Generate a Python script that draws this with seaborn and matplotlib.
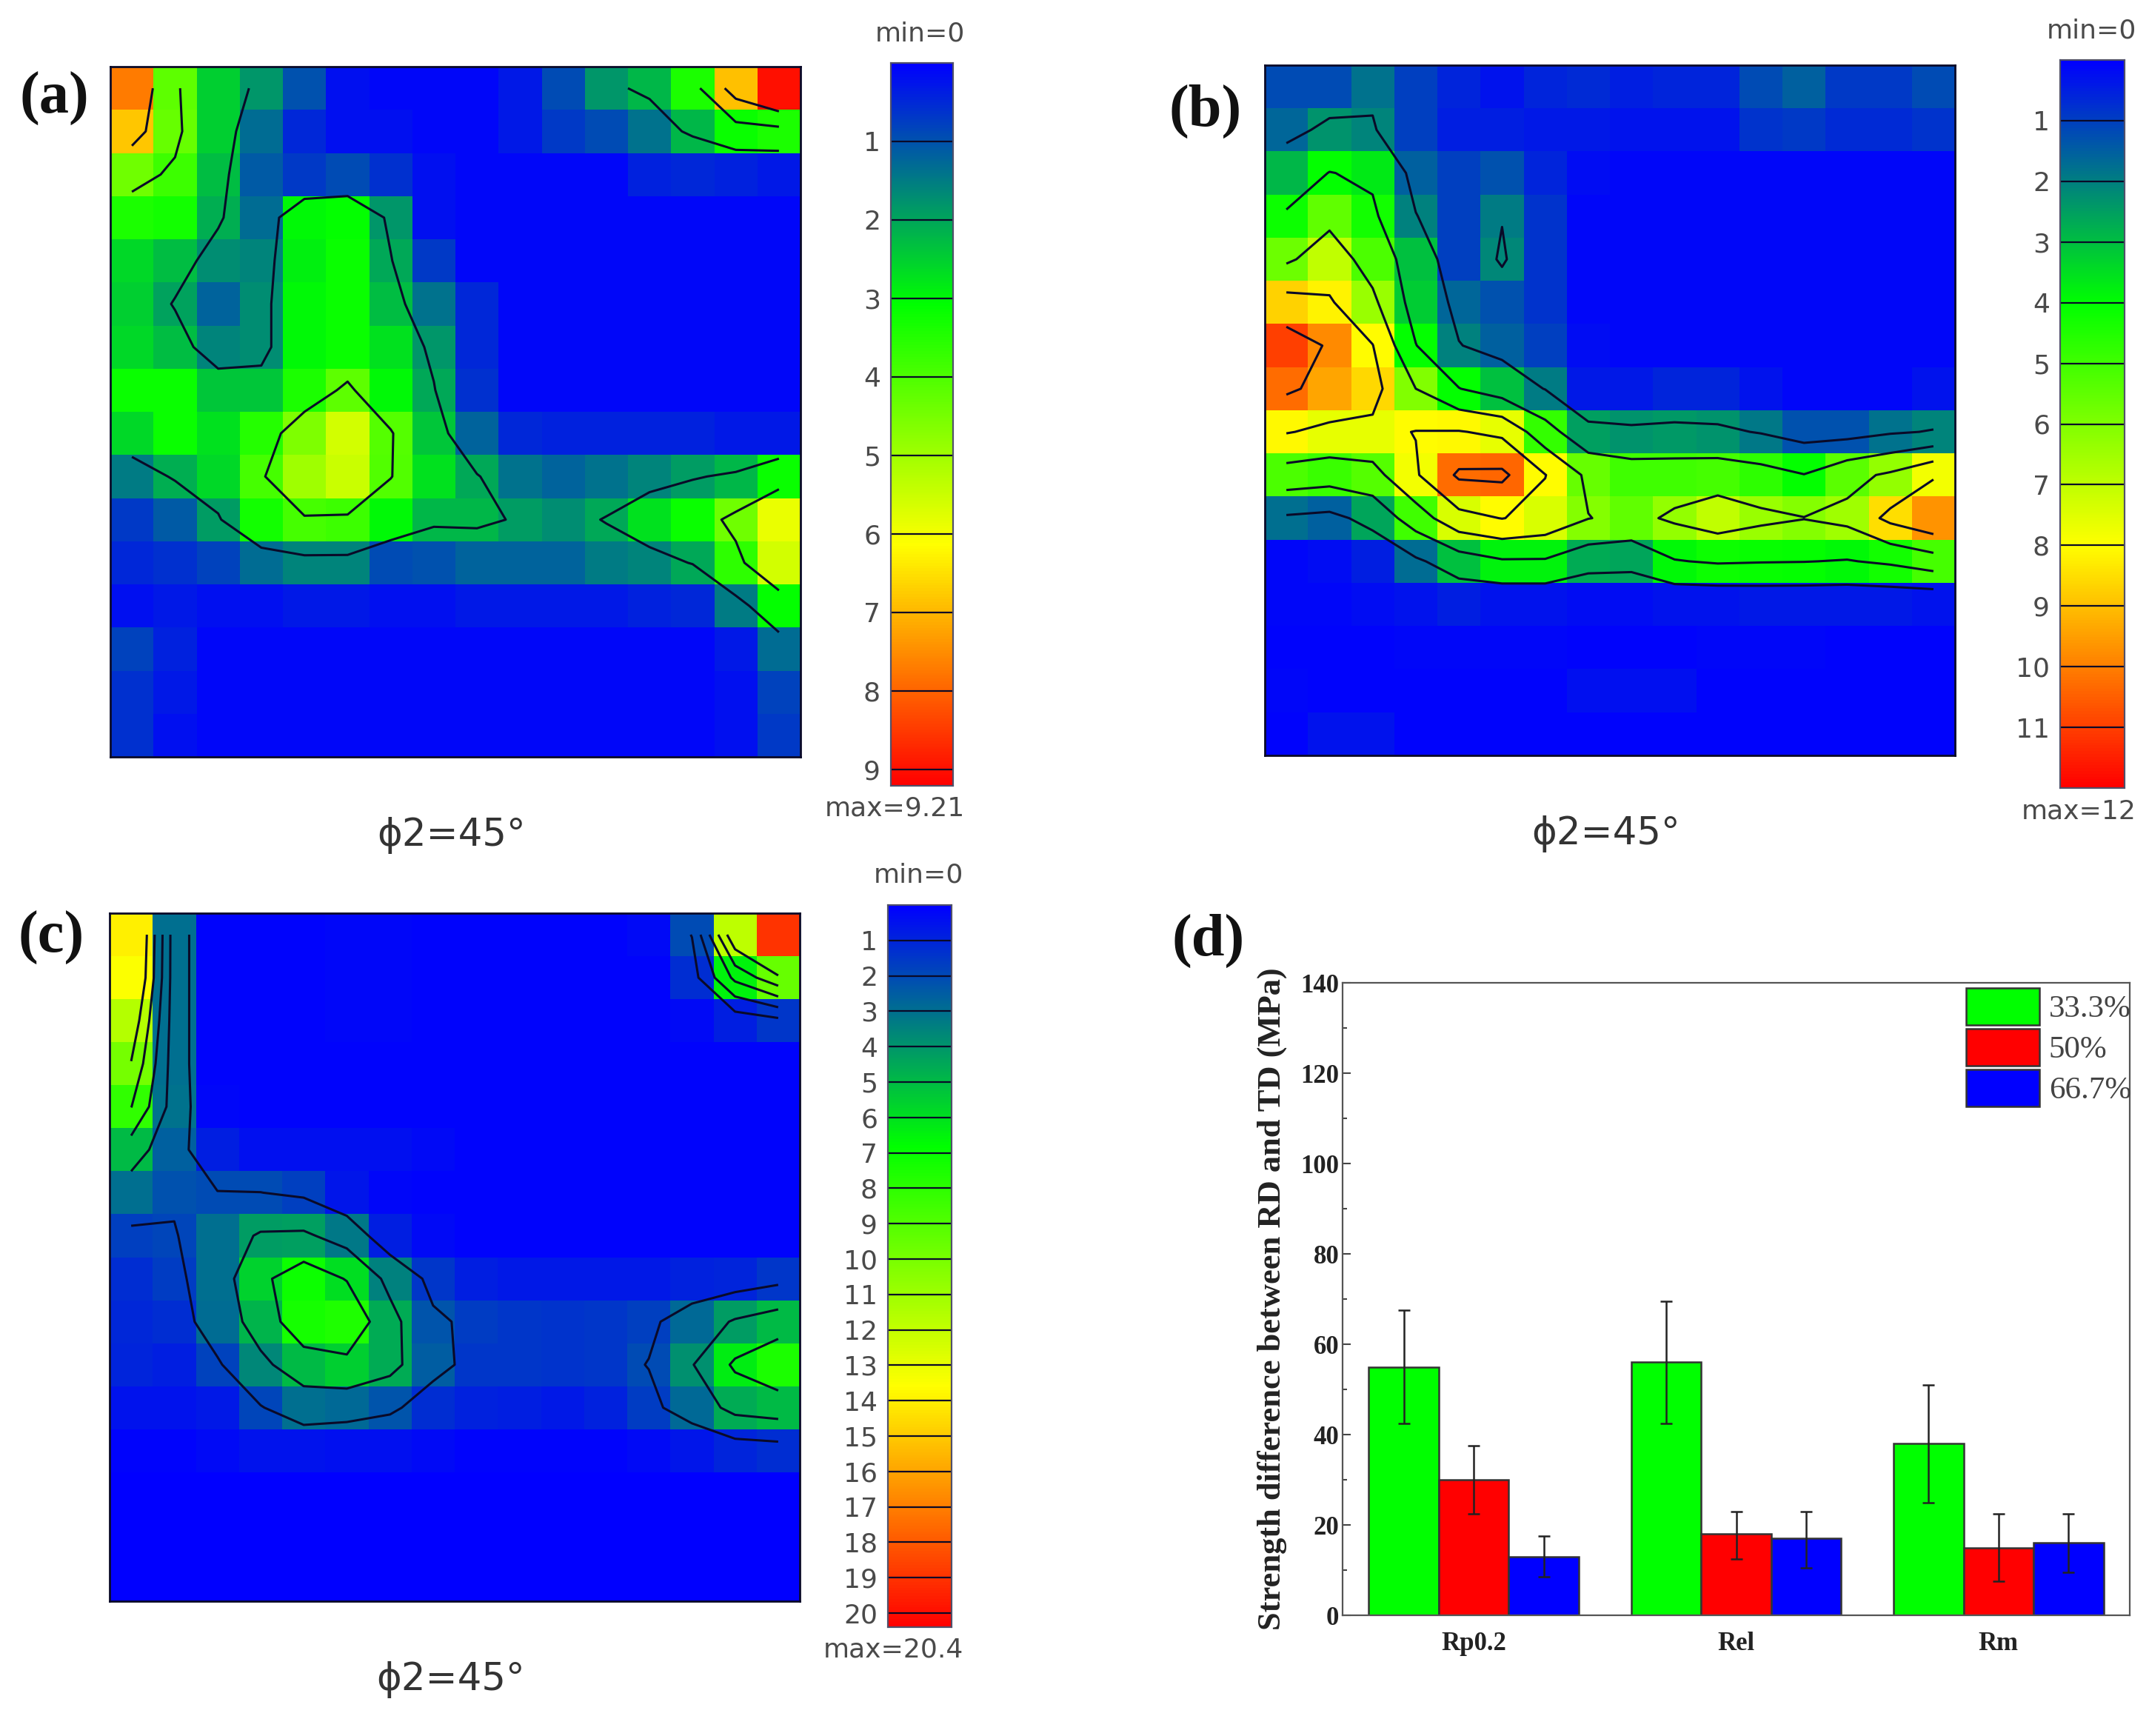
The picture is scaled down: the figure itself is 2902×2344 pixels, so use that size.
import numpy as np
import pandas as pd
import matplotlib
matplotlib.use("Agg")
import matplotlib.pyplot as plt
from matplotlib.colors import LinearSegmentedColormap
from matplotlib.ticker import MultipleLocator
import seaborn as sns

W, H = 2902, 2344

# ODF section (a), max 9.21
odf_a = [
    [7.7, 4.2, 2.5, 1.8, 1.0, .2, .1, .1, .1, .3, .9, 1.8, 2.2, 3.4, 6.9, 9.0],
    [6.8, 4.3, 2.5, 1.3, .5, .2, .2, .1, .1, .3, .7, .9, 1.4, 2.2, 3.2, 3.4],
    [4.4, 3.8, 2.3, 1.1, .7, .9, .6, .2, .1, .1, .1, .1, .4, .5, .4, .3],
    [3.4, 3.3, 2.1, 1.3, 3.0, 3.1, 1.8, .2, .1, .1, .1, .1, .1, .1, .1, .1],
    [2.6, 2.3, 1.7, 1.6, 2.9, 3.2, 2.05, .7, .1, .1, .1, .1, .1, .1, .1, .1],
    [2.5, 1.95, 1.2, 1.7, 3.0, 3.2, 2.3, 1.4, .5, .1, .1, .1, .1, .1, .1, .1],
    [2.6, 2.3, 1.6, 1.7, 3.0, 3.2, 2.7, 1.8, .5, .1, .1, .1, .1, .1, .1, .1],
    [3.2, 3.2, 2.4, 2.4, 3.4, 4.2, 3.0, 2.05, .6, .1, .1, .1, .1, .1, .1, .1],
    [2.6, 3.2, 2.7, 3.5, 4.6, 5.6, 4.1, 2.4, 1.2, .5, .4, .4, .4, .4, .3, .3],
    [1.5, 2.1, 2.6, 3.9, 5.0, 5.5, 4.05, 2.7, 2.05, 1.4, 1.2, 1.4, 1.6, 1.9, 2.2, 3.2],
    [.7, 1.1, 1.9, 3.3, 3.9, 3.8, 3.0, 2.2, 2.2, 1.9, 1.7, 2.05, 2.7, 3.2, 4.4, 5.9],
    [.5, .6, .8, 1.3, 1.6, 1.6, .9, 1.0, 1.2, 1.2, 1.2, 1.5, 1.6, 2.05, 3.6, 5.6],
    [.2, .3, .2, .2, .3, .3, .2, .2, .3, .3, .3, .3, .4, .5, 1.5, 3.1],
    [.8, .4, .1, .1, .1, .1, .1, .1, .1, .1, .1, .1, .1, .1, .3, 1.3],
    [.6, .3, .1, .1, .1, .1, .1, .1, .1, .1, .1, .1, .1, .1, .2, .8],
    [.6, .2, .1, .1, .1, .1, .1, .1, .1, .1, .1, .1, .1, .1, .2, .7],
]

# ODF section (b), max 12
odf_b = [
    [1.2, 1.2, 1.8, 1.0, .6, .3, .6, .7, .5, .6, .6, 1.2, 1.5, .9, .9, 1.2],
    [1.6, 2.3, 2.1, 1.0, .5, .5, .4, .4, .3, .3, .3, .8, .9, .7, .7, .8],
    [2.9, 4.05, 3.7, 1.5, 1.0, 1.3, .6, .2, .1, .1, .1, .1, .1, .1, .1, .1],
    [4.2, 5.5, 4.3, 2.05, 1.0, 1.95, .8, .1, .1, .1, .1, .1, .1, .1, .1, .1],
    [5.7, 7.0, 5.2, 3.0, 1.0, 2.15, .8, .1, .1, .1, .1, .1, .1, .1, .1, .1],
    [8.7, 8.2, 6.4, 3.2, 1.6, 1.3, .8, .1, .1, .1, .1, .1, .1, .1, .1, .1],
    [11.0, 9.8, 8.05, 4.05, 2.05, 1.5, 1.0, .2, .1, .1, .1, .1, .1, .1, .1, .1],
    [10.3, 9.4, 8.6, 6.0, 4.05, 3.0, 1.95, .4, .4, .6, .6, .3, .1, .1, .1, .3],
    [8.1, 7.6, 7.6, 8.05, 8.1, 7.6, 4.8, 2.5, 2.3, 2.4, 2.3, 1.9, 1.3, 1.3, 1.8, 2.1],
    [5.2, 4.9, 5.3, 7.8, 10.3, 10.4, 8.05, 5.6, 5.0, 5.0, 5.1, 4.7, 4.05, 5.4, 6.3, 7.8],
    [1.75, 1.5, 2.6, 5.0, 7.4, 8.05, 7.4, 6.05, 5.5, 6.3, 7.0, 6.4, 6.05, 6.5, 8.5, 9.7],
    [.1, .2, .5, 1.7, 3.0, 3.8, 3.8, 2.7, 2.6, 3.9, 4.2, 4.1, 4.05, 3.9, 4.3, 5.1],
    [.1, .1, .2, .3, .5, .3, .3, .2, .2, .3, .3, .4, .4, .4, .4, .3],
    [.05, .05, .05, .1, .1, .1, .1, .05, .05, .05, .1, .1, .1, .05, .05, .05],
    [.1, .05, .05, .05, .05, .05, .05, .25, .25, .25, .05, .05, .05, .05, .05, .05],
    [.05, .3, .3, .05, .05, .05, .05, .05, .05, .05, .05, .05, .05, .05, .05, .05],
]

# ODF section (c), max 20.4
odf_c = [
    [14.0, 3.0, .1, .1, .1, .2, .2, .1, .1, .1, .1, .1, .3, 2.05, 11.8, 19.0],
    [13.5, 3.0, .1, .1, .1, .2, .2, .1, .1, .1, .1, .1, .1, 1.2, 6.5, 9.5],
    [11.6, 3.0, .1, .1, .1, .2, .2, .1, .1, .1, .1, .1, .1, .3, .8, 1.5],
    [9.9, 3.0, .1, .1, .1, .1, .1, .1, .1, .1, .1, .1, .1, .1, .1, .1],
    [8.05, 3.1, .2, .1, .1, .1, .1, .1, .1, .1, .1, .1, .1, .1, .1, .1],
    [5.0, 2.6, .8, .4, .4, .4, .4, .3, .1, .1, .1, .1, .1, .1, .1, .1],
    [3.0, 2.2, 2.05, 2.02, 1.7, .6, .2, .1, .1, .1, .1, .1, .1, .1, .1, .1],
    [1.7, 1.9, 3.0, 4.2, 4.3, 3.2, .8, .3, .1, .1, .1, .1, .1, .1, .1, .1],
    [1.2, 1.6, 3.0, 5.6, 7.1, 5.9, 3.5, 1.5, .8, .7, .7, .7, .7, .9, 1.0, 1.5],
    [1.1, 1.2, 2.9, 4.8, 7.4, 7.6, 4.6, 2.3, 1.6, 1.5, 1.4, 1.5, 1.7, 2.8, 4.2, 5.0],
    [1.0, .8, 1.8, 3.6, 5.0, 5.5, 4.6, 2.5, 1.5, 1.5, 1.4, 1.5, 2.05, 3.9, 6.3, 7.5],
    [.5, .5, .7, 1.9, 3.0, 2.8, 2.3, 1.2, .9, .8, .7, .9, 1.6, 2.8, 4.6, 5.0],
    [.1, .1, .3, .5, .5, .4, .4, .3, .1, .1, .1, .1, .3, .6, 1.0, 1.2],
    [.05, .05, .05, .05, .05, .05, .05, .05, .05, .05, .05, .05, .05, .05, .05, .05],
    [.05, .05, .05, .05, .05, .05, .05, .05, .05, .05, .05, .05, .05, .05, .05, .05],
    [.05, .05, .05, .05, .05, .05, .05, .05, .05, .05, .05, .05, .05, .05, .05, .05],
]

contours_a = [2, 4, 6]
contours_b = [2, 4, 6, 8, 10]
contours_c = [2, 4, 6, 8, 10]

scale_a = list(range(1, 10))
scale_b = list(range(1, 12))
scale_c = list(range(1, 21))

# bar chart (d)
properties = ["Rp0.2", "Rel", "Rm"]
reductions = ["33.3%", "50%", "66.7%"]
strength_33 = [55, 56, 38]
strength_50 = [30, 18, 15]
strength_67 = [13, 17, 16]
err_low_33 = [42.5, 42.5, 25]
err_low_50 = [22.5, 12.5, 7.5]
err_low_67 = [8.5, 10.5, 9.5]
err_high_33 = [67.5, 69.5, 51]
err_high_50 = [37.5, 23, 22.5]
err_high_67 = [17.5, 23, 22.5]

BAR_COLORS = ["#00ff00", "#ff0000", "#0000ff"]
LINE_COLOR = "#0a0a28"
GREY_TEXT = "#4a4a4a"

odf_cmap = LinearSegmentedColormap.from_list(
    "odf", ["#0000ff", "#00ff00", "#ffff00", "#ff0000"])


def px_axes(fig, x0, y0, x1, y1):
    """Axes from pixel box, y counted from the top"""
    return fig.add_axes([x0 / W, 1 - y1 / H, (x1 - x0) / W, (y1 - y0) / H])


def px_text(fig, x, y, s, **kw):
    fig.text(x / W, 1 - y / H, s, **kw)


def plot_odf(fig, values, vmax, levels, scale, box, cbox, letter, letter_xy, max_label):
    """One ODF section with its contour lines and colour scale"""
    ax = px_axes(fig, *box)
    cax = px_axes(fig, *cbox)
    data = np.array(values)

    sns.heatmap(data, ax=ax, cmap=odf_cmap, vmin=0, vmax=vmax, cbar_ax=cax,
                xticklabels=False, yticklabels=False, square=False)
    centers = np.arange(data.shape[0]) + 0.5
    ax.contour(centers, centers, data, levels=levels, colors=LINE_COLOR,
               linewidths=2.2)
    for spine in ax.spines.values():
        spine.set_visible(True)
        spine.set_color(LINE_COLOR)
        spine.set_linewidth(2)
    ax.tick_params(length=0)

    cax.invert_yaxis()
    cax.yaxis.set_ticks_position("left")
    cax.set_yticks(scale)
    cax.set_yticklabels(scale, fontsize=26, color=GREY_TEXT)
    cax.tick_params(axis="y", length=0, pad=10)
    cax.hlines(scale, 0, 1, colors=LINE_COLOR, linewidth=1.6)
    for spine in cax.spines.values():
        spine.set_visible(True)
        spine.set_color("#50506a")
        spine.set_linewidth(1.5)

    right = cbox[2] + 16
    px_text(fig, right, cbox[1] - 40, "min=0", fontsize=26, color=GREY_TEXT,
            ha="right", va="center")
    px_text(fig, right, cbox[3] + 31, max_label, fontsize=26, color=GREY_TEXT,
            ha="right", va="center")
    px_text(fig, (box[0] + box[2]) / 2 - 5, box[3] + 106, "ϕ2=45°", fontsize=37,
            color="#333333", ha="center", va="center")
    px_text(fig, letter_xy[0], letter_xy[1], letter, fontsize=58, fontweight="bold",
            family="Liberation Serif", color="#111111", ha="left", va="center")


def plot_bars(fig):
    """Strength differences with error bars"""
    ax = px_axes(fig, 1813, 1327, 2876, 2181)
    df = pd.DataFrame({
        "property": properties * 3,
        "reduction": np.repeat(reductions, 3),
        "strength": strength_33 + strength_50 + strength_67,
    })
    sns.barplot(data=df, x="property", y="strength", hue="reduction",
                palette=BAR_COLORS, saturation=1, width=0.8, edgecolor="#333333",
                linewidth=1.8, errorbar=None, ax=ax)

    lows = [err_low_33, err_low_50, err_low_67]
    highs = [err_high_33, err_high_50, err_high_67]
    for container, low, high in zip(ax.containers, lows, highs):
        xs = [bar.get_x() + bar.get_width() / 2 for bar in container]
        ys = [bar.get_height() for bar in container]
        ax.errorbar(xs, ys,
                    yerr=[np.array(ys) - np.array(low), np.array(high) - np.array(ys)],
                    fmt="none", ecolor="#222222", elinewidth=1.8, capsize=6, capthick=1.8)

    ax.set_xlim(-0.5, 2.5)
    ax.set_ylim(0, 140)
    ax.yaxis.set_major_locator(MultipleLocator(20))
    ax.yaxis.set_minor_locator(MultipleLocator(10))
    ax.tick_params(axis="y", which="major", direction="in", length=8, width=1.5,
                   color="#444444", left=True)
    ax.tick_params(axis="y", which="minor", direction="in", length=4, width=1.5,
                   color="#444444", left=True)
    ax.tick_params(axis="x", length=0, pad=16)
    for label in ax.get_xticklabels() + ax.get_yticklabels():
        label.set_family("Liberation Serif")
        label.set_fontweight("bold")
        label.set_fontsize(25)
        label.set_color("#222222")
    ax.set_xlabel("")
    ax.set_ylabel("Strength difference between RD and TD (MPa)", family="Liberation Serif",
                  fontweight="bold", fontsize=32, color="#222222", labelpad=13)
    for spine in ax.spines.values():
        spine.set_visible(True)
        spine.set_color("#555555")
        spine.set_linewidth(1.6)

    handles, labels = ax.get_legend_handles_labels()
    ax.legend(handles, labels, loc="upper right", bbox_to_anchor=(1.002, 0.992),
              frameon=False, borderpad=0, borderaxespad=0, handlelength=2.3,
              handleheight=1.41, labelspacing=0.12, handletextpad=0.3,
              prop={"family": "Liberation Serif", "size": 31}, labelcolor="#444444")
    px_text(fig, 1583, 1270, "(d)", fontsize=58, fontweight="bold",
            family="Liberation Serif", color="#111111", ha="left", va="center")


def main():
    sns.set_theme(style="white")
    plt.rcParams["font.family"] = ["DejaVu Sans"]
    fig = plt.figure(figsize=(W / 100, H / 100), dpi=100)

    plot_odf(fig, odf_a, 9.21, contours_a, scale_a, (149, 90, 1081, 1022),
             (1203, 85, 1287, 1061), "(a)", (26, 133), "max=9.21")
    plot_odf(fig, odf_b, 12, contours_b, scale_b, (1708, 88, 2640, 1020),
             (2782, 81, 2869, 1064), "(b)", (1579, 150), "max=12")
    plot_odf(fig, odf_c, 20.4, contours_c, scale_c, (148, 1233, 1080, 2162),
             (1199, 1222, 1285, 2197), "(c)", (24, 1266), "max=20.4")
    plot_bars(fig)

    fig.savefig("out.png", dpi=100)


if __name__ == "__main__":
    main()
